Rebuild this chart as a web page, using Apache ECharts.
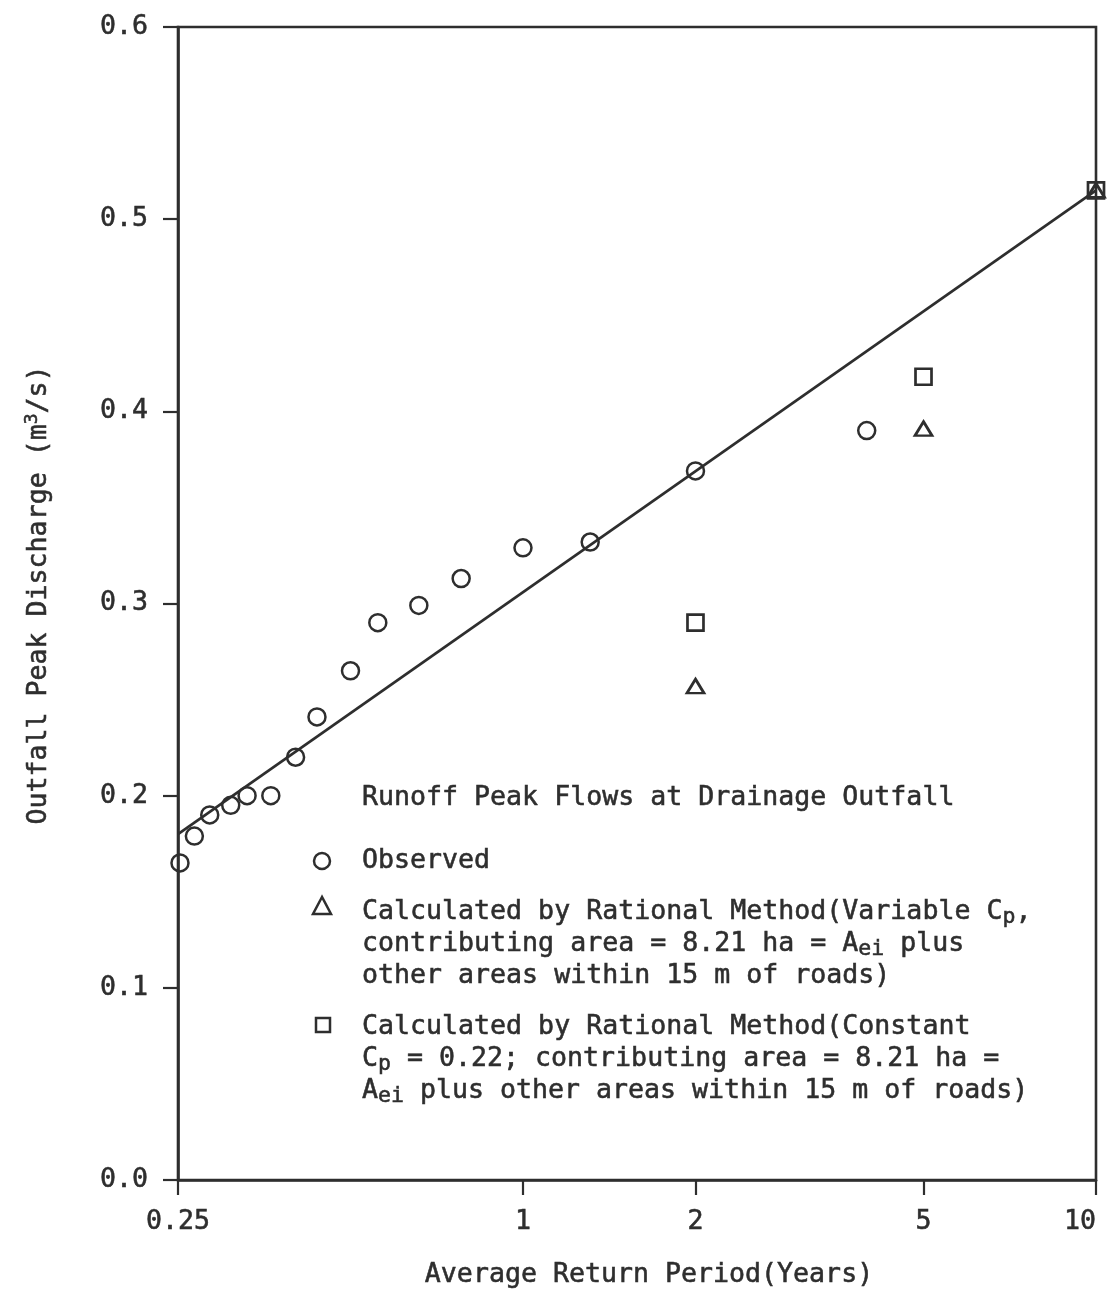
<!DOCTYPE html>
<html><head><meta charset="utf-8">
<script src="https://cdn.jsdelivr.net/npm/echarts@6/dist/echarts.min.js"></script>
<style>html,body{margin:0;padding:0;background:#fff}#c{width:1110px;height:1294px}</style>
</head><body><div id="c"></div>
<script>
// ---- data ----
const xTicks = [0.25, 1, 2, 5, 10];
const yTicks = [0, 0.1, 0.2, 0.3, 0.4, 0.5, 0.6];
const observedX = [0.252, 0.267, 0.284, 0.309, 0.33, 0.363, 0.401, 0.437, 0.5, 0.558, 0.658, 0.78, 1.0, 1.31, 2.0, 3.98];
const observedY = [0.165, 0.179, 0.190, 0.195, 0.200, 0.200, 0.220, 0.241, 0.265, 0.290, 0.299, 0.313, 0.329, 0.332, 0.369, 0.390];
const variableX = [2, 5, 10];
const variableY = [0.257, 0.391, 0.515];
const constantX = [2, 5, 10];
const constantY = [0.290, 0.418, 0.515];
const fitX = [0.25, 10];
const fitY = [0.180, 0.515];

const zip = (a, b) => a.map((v, i) => [v, b[i]]);
const INK = '#2e2e2e';
const FONT = 'DejaVu Sans Mono';
const FS = 26.6;
const EMB = 0.55; // slight emboldening like typewriter ink

const chart = echarts.init(document.getElementById('c'), null, {renderer: 'canvas'});

const richSub = {
  sub: {fontFamily: FONT, fontSize: 21.5, lineHeight: 16, verticalAlign: 'bottom', fill: INK, color: INK, stroke: INK, lineWidth: EMB},
  sup: {fontFamily: FONT, fontSize: 18, lineHeight: 12, verticalAlign: 'top', fill: INK, color: INK, stroke: INK, lineWidth: EMB}
};
function txt(x, y, text, center, extra) {
  return Object.assign({
    type: 'text', x: x, y: y, silent: true,
    style: {
      text: text, fill: INK, stroke: INK, lineWidth: EMB,
      fontFamily: FONT, fontSize: FS, lineHeight: 32,
      align: center ? 'center' : 'left', verticalAlign: center ? 'middle' : 'top',
      textAlign: center ? 'center' : 'left', textVerticalAlign: center ? 'middle' : 'top',
      rich: richSub
    }
  }, extra || {});
}
const symStyle = {fill: 'none', stroke: INK, lineWidth: 2.5};
const labelStyle = {color: INK, fontFamily: FONT, fontSize: FS, textBorderColor: INK, textBorderWidth: EMB};
const markStyle = {color: 'rgba(255,255,255,0)', borderColor: INK, opacity: 1};

const option = {
  animation: false,
  backgroundColor: '#fff',
  grid: {left: 178, right: 14, top: 27, bottom: 114, show: true, borderColor: INK, borderWidth: 2.6, backgroundColor: 'transparent', outerBoundsMode: 'none', containLabel: false},
  xAxis: {
    type: 'log', logBase: 10, min: 0.25, max: 10,
    axisLine: {show: true, lineStyle: {color: INK, width: 2.6}},
    axisTick: {show: true, customValues: xTicks, length: 15, inside: false, lineStyle: {color: INK, width: 2.2}},
    minorTick: {show: false},
    axisLabel: Object.assign({customValues: xTicks, formatter: v => String(v), margin: 29, alignMaxLabel: 'right'}, labelStyle),
    splitLine: {show: false}, minorSplitLine: {show: false}
  },
  yAxis: {
    type: 'value', min: 0, max: 0.6, interval: 0.1,
    axisLine: {show: true, lineStyle: {color: INK, width: 2.6}},
    axisTick: {show: true, length: 15, inside: false, lineStyle: {color: INK, width: 2.2}},
    axisLabel: Object.assign({formatter: v => v.toFixed(1), margin: 30}, labelStyle),
    splitLine: {show: false}
  },
  series: [
    {type: 'line', data: zip(fitX, fitY), symbol: 'none', lineStyle: {color: INK, width: 2.7, opacity: 1}, z: 2, silent: true},
    {type: 'scatter', name: 'Observed', data: zip(observedX, observedY), symbol: 'circle', symbolSize: 17,
     itemStyle: Object.assign({borderWidth: 2.5}, markStyle), z: 3, silent: true},
    {type: 'scatter', name: 'Variable', data: zip(variableX, variableY), symbol: 'triangle', symbolSize: [17, 14],
     itemStyle: Object.assign({borderWidth: 2.7}, markStyle), z: 3, silent: true},
    {type: 'scatter', name: 'Constant', data: zip(constantX, constantY), symbol: 'rect', symbolSize: 16,
     itemStyle: Object.assign({borderWidth: 2.7}, markStyle), z: 3, silent: true}
  ],
  graphic: [
    txt(362, 782, 'Runoff Peak Flows at Drainage Outfall'),
    {type: 'circle', shape: {cx: 322, cy: 861, r: 8}, style: symStyle, silent: true},
    txt(362, 845, 'Observed'),
    {type: 'polygon', shape: {points: [[322, 897], [313, 914], [331, 914]]}, style: symStyle, silent: true},
    txt(362, 896, 'Calculated by Rational Method(Variable C{sub|p},\ncontributing area = 8.21 ha = A{sub|ei} plus\nother areas within 15 m of roads)'),
    {type: 'rect', shape: {x: 316, y: 1018, width: 14, height: 14}, style: symStyle, silent: true},
    txt(362, 1011, 'Calculated by Rational Method(Constant\nC{sub|p} = 0.22; contributing area = 8.21 ha =\nA{sub|ei} plus other areas within 15 m of roads)'),
    txt(649, 1275, 'Average Return Period(Years)', true),
    txt(39, 595, 'Outfall Peak Discharge (m{sup|3}/s)', true, {rotation: Math.PI / 2})
  ]
};

chart.setOption(option);
</script></body></html>
